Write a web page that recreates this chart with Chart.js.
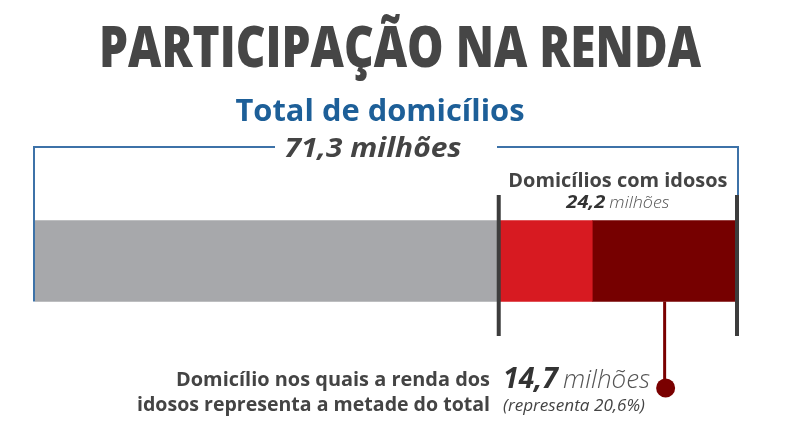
<!DOCTYPE html>
<html lang="pt-BR">
<head>
<meta charset="utf-8">
<title>Participação na renda</title>
<script src="https://cdn.jsdelivr.net/npm/chart.js@4/dist/chart.umd.min.js"></script>
<style>
  html, body { margin: 0; padding: 0; background: #fff; }
  #wrap { width: 801px; height: 432px; }
</style>
</head>
<body>
<div id="wrap"><canvas id="rendaChart" width="801" height="432"></canvas></div>
<script>
// Dados (milhões de domicílios)
const categories = ['Domicílios'];
const segmentLabels = ['Sem idosos', 'Com idosos', 'Renda dos idosos = metade do total'];
const segmentValues = [47.1, 9.5, 14.7];
const segmentColors = ['#a7a8ab', '#d71a21', '#760000'];
const totalHouseholds = 71.3;
const elderlyHouseholds = 24.2;
const halfIncomeHouseholds = 14.7;
const halfIncomeShare = '20,6%';

// desenha texto comprimido horizontalmente para caber numa largura
function fitText(ctx, str, x, y, font, color, align, width) {
    ctx.save();
    ctx.font = font;
    ctx.fillStyle = color;
    ctx.textBaseline = 'alphabetic';
    const w = ctx.measureText(str).width;
    const sx = width ? width / w : 1;
    const realW = w * sx;
    let left = x;
    if (align === 'center') left = x - realW / 2;
    if (align === 'right') left = x - realW;
    ctx.translate(left, y);
    ctx.scale(sx, 1);
    ctx.textAlign = 'left';
    ctx.fillText(str, 0, 0);
    ctx.restore();
    return realW;
}

const fmt = v => v.toFixed(1).replace('.', ',');

const annotations = {
    id: 'annotations',
    afterDraw(chart) {
        const ctx = chart.ctx;
        const xs = chart.scales.x;
        const meta = chart.getDatasetMeta(0).data[0];
        const barBottom = meta.y + meta.height / 2;

        const xStart = xs.getPixelForValue(0);
        const xElder = xs.getPixelForValue(totalHouseholds - elderlyHouseholds);
        const xHalf = xs.getPixelForValue(totalHouseholds - halfIncomeHouseholds);
        const xEnd = xs.getPixelForValue(totalHouseholds);

        // Títulos
        fitText(ctx, 'PARTICIPAÇÃO NA RENDA', 400, 67, '800 56px "Open Sans"', '#464646', 'center', 602);
        fitText(ctx, 'Total de domicílios', 380, 121, 'bold 31px "Open Sans"', '#1d5f98', 'center', 289);
        fitText(ctx, fmt(totalHouseholds) + ' milhões', 373, 157, 'italic bold 26px "Open Sans"', '#444', 'center', 177);

        // colchete azul do total
        ctx.save();
        ctx.strokeStyle = '#3d72a8';
        ctx.lineWidth = 2;
        ctx.beginPath();
        ctx.moveTo(xStart - 1, barBottom);
        ctx.lineTo(xStart - 1, 147);
        ctx.lineTo(275, 147);
        ctx.moveTo(497, 147);
        ctx.lineTo(xEnd + 1, 147);
        ctx.lineTo(xEnd + 1, 195);
        ctx.stroke();
        ctx.restore();

        // marcas escuras dos domicílios com idosos
        ctx.save();
        ctx.strokeStyle = '#3d3d3d';
        ctx.lineWidth = 4;
        ctx.beginPath();
        ctx.moveTo(xElder, 195);
        ctx.lineTo(xElder, 336);
        ctx.moveTo(xEnd, 195);
        ctx.lineTo(xEnd, 336);
        ctx.stroke();
        ctx.restore();

        const cElder = (xElder + xEnd) / 2;
        fitText(ctx, 'Domicílios com idosos', cElder, 187, 'bold 20px "Open Sans"', '#444', 'center', 219);
        const w1 = 39, w2 = 60;
        const l = cElder - (w1 + 4 + w2) / 2;
        fitText(ctx, fmt(elderlyHouseholds), l, 208, 'italic bold 17px "Open Sans"', '#333', 'left', w1);
        fitText(ctx, 'milhões', l + w1 + 4, 208, 'italic 300 17px "Open Sans"', '#555', 'left', w2);

        // linha e ponto do destaque
        const cHalf = (xHalf + xEnd) / 2;
        ctx.save();
        ctx.strokeStyle = '#7a0000';
        ctx.lineWidth = 3;
        ctx.beginPath();
        ctx.moveTo(cHalf, barBottom);
        ctx.lineTo(cHalf, 388);
        ctx.stroke();
        ctx.fillStyle = '#7a0000';
        ctx.beginPath();
        ctx.arc(cHalf + 1, 388, 9.5, 0, Math.PI * 2);
        ctx.fill();
        ctx.restore();

        // texto inferior
        fitText(ctx, 'Domicílio nos quais a renda dos', 490, 386, 'bold 20px "Open Sans"', '#444', 'right', 314);
        fitText(ctx, 'idosos representa a metade do total', 490, 411, 'bold 20px "Open Sans"', '#444', 'right', 353);
        fitText(ctx, fmt(halfIncomeHouseholds), 503, 388, 'italic bold 29px "Open Sans"', '#333', 'left', 55);
        fitText(ctx, 'milhões', 563, 388, 'italic 300 26px "Open Sans"', '#555', 'left', 87);
        fitText(ctx, '(representa ' + halfIncomeShare + ')', 503, 411, 'italic 17px "Open Sans"', '#444', 'left', 142);
    }
};

const ctx = document.getElementById('rendaChart').getContext('2d');
new Chart(ctx, {
    type: 'bar',
    data: {
        labels: categories,
        datasets: segmentValues.map((v, i) => ({
            label: segmentLabels[i],
            data: [v],
            backgroundColor: segmentColors[i],
            borderWidth: 0,
            barThickness: 81
        }))
    },
    options: {
        indexAxis: 'y',
        responsive: false,
        animation: false,
        layout: { padding: { left: 35, right: 64, top: 200, bottom: 110 } },
        plugins: {
            legend: { display: false },
            tooltip: { enabled: false }
        },
        scales: {
            x: { stacked: true, min: 0, max: totalHouseholds, display: false },
            y: { stacked: true, display: false }
        }
    },
    plugins: [annotations]
});
</script>
</body>
</html>
